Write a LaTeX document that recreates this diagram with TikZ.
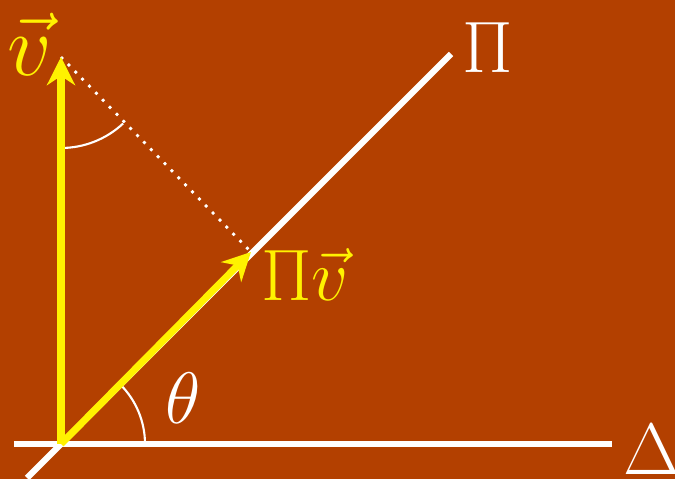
\documentclass[tikz,border=0pt]{standalone}
\usepackage{amsmath,amssymb}
\usepackage{tikz}
\usetikzlibrary{arrows.meta, calc}

\definecolor{bgbrown}{RGB}{179,64,0}

\begin{document}
\begin{tikzpicture}[
    axisline/.style={draw=white, line width=1.8pt},
    vecline/.style={draw=yellow, line width=2pt, -{Stealth[length=8pt, width=8pt]}},
    projline/.style={draw=white, dotted, line width=0.8pt},
    anglearc/.style={draw=white, line width=0.6pt},
    whitelabel/.style={text=white, font=\huge},
    veclabel/.style={text=yellow, font=\huge}
]

% Background with the picture's margins
\fill[bgbrown] (-0.61,-0.35) rectangle (6.14,4.44);
\useasboundingbox (-0.61,-0.35) rectangle (6.14,4.44);

% Key points
\coordinate (O)     at (0,0);
\coordinate (vtip)  at (0,3.87);
\coordinate (ptip)  at (1.9,1.92);
\coordinate (dleft) at (-0.47,0);
\coordinate (dright) at (5.51,0);
\coordinate (plow)  at (-0.34,-0.34);
\coordinate (phigh) at (3.9,3.9);

% Lines Delta and Pi
\draw[axisline] (dleft) -- (dright);
\draw[axisline] (plow) -- (phigh);

% Projection
\draw[projline] (vtip) -- (ptip);

% Angle arcs
\draw[anglearc] ($(vtip)+(-90:0.91)$) arc[start angle=-90, end angle=-47, radius=0.91];
\draw[anglearc] ($(O)+(0.84,0)$) arc[start angle=0, end angle=45, radius=0.84];

% Vectors
\draw[vecline] (O) -- (vtip);
\draw[vecline] (O) -- (ptip);

% Labels
\node[veclabel, font=\Huge] (vlabel)  at (-0.31,4.0) {$\vec{v}$};
\node[whitelabel]           (pilabel) at (4.27,3.96) {$\Pi$};
\node[veclabel]             (pvlabel) at (2.44,1.69) {$\Pi\vec{v}$};
\node[whitelabel]           (dlabel)  at (5.91,-0.06) {$\Delta$};
\node[whitelabel]           (tlabel)  at (1.22,0.46) {$\theta$};

\end{tikzpicture}
\end{document}
